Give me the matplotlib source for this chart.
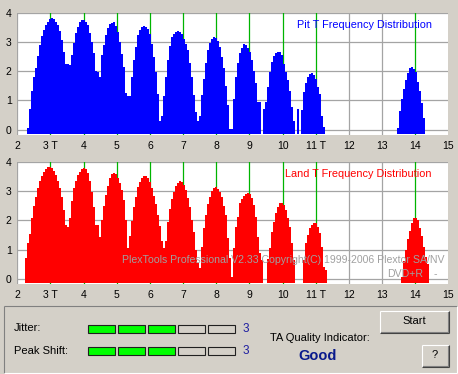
import matplotlib
matplotlib.use("Agg")
import matplotlib.pyplot as plt
from matplotlib.patches import Rectangle

plt.rcParams["font.family"] = ["Liberation Sans", "DejaVu Sans"]

BG = "#d4d0c8"
GRID = "#a4a4a4"
GREEN = "#00b400"

# T axis
T_TICKS = list(range(2, 16))
T_LABELS = ["2", "3 T", "4", "5", "6", "7", "8", "9", "10", "11 T", "12", "13", "14", "15"]
MARKED_T = [3, 4, 5, 6, 7, 8, 9, 10, 11, 14]

# histogram bins (log10 counts)
BIN_W = 0.0603
PIT_X0 = 2.305
LAND_X0 = 2.235

pit_first_bin = [0, 22, 37, 52, 68, 87, 103, 118, 135, 137, 185]
pit_heights = [
    [0.05, 0.72, 1.34, 1.82, 2.11, 2.54, 2.91, 3.22, 3.42, 3.60, 3.71, 3.79, 3.83, 3.79, 3.71, 3.60, 3.40, 3.08, 2.68, 2.26, 2.25, 2.22],
    [2.57, 2.97, 3.33, 3.54, 3.71, 3.77, 3.77, 3.71, 3.60, 3.33, 3.02, 2.62, 2.03, 1.99, 1.82],
    [2.55, 2.90, 3.25, 3.48, 3.62, 3.68, 3.70, 3.55, 3.35, 3.00, 2.60, 2.16, 1.25, 1.15, 1.15],
    [1.80, 2.40, 2.84, 3.24, 3.42, 3.52, 3.55, 3.52, 3.45, 3.30, 2.95, 2.50, 1.98, 1.23, 0.31, 0.48],
    [1.17, 1.80, 2.38, 2.86, 3.18, 3.30, 3.36, 3.39, 3.36, 3.30, 3.13, 2.95, 2.72, 2.30, 1.80, 1.20, 0.60, 0.31, 0.45],
    [1.20, 1.75, 2.30, 2.72, 2.98, 3.12, 3.18, 3.15, 3.05, 2.85, 2.50, 2.10, 1.50, 0.83, 0.03, 0.03],
    [1.05, 1.82, 2.30, 2.62, 2.82, 2.93, 2.92, 2.80, 2.65, 2.40, 2.00, 1.60, 0.95, 0.94],
    [0.70, 0.94, 1.46, 1.98, 2.32, 2.52, 2.63, 2.67, 2.67, 2.55, 2.26, 1.98, 1.69, 1.34, 0.77, 0.31],
    [0.71],
    [0.66, 1.29, 1.60, 1.80, 1.90, 1.94, 1.86, 1.75, 1.46, 1.23, 0.45, 0.08],
    [0.05, 0.65, 1.05, 1.40, 1.72, 1.95, 2.12, 2.14, 2.08, 1.98, 1.65, 1.32, 0.92, 0.40],
]

land_first_bin = [0, 22, 38, 52, 70, 88, 104, 121, 139, 188]
land_heights = [
    [0.72, 1.21, 1.53, 2.10, 2.50, 2.80, 3.13, 3.37, 3.53, 3.68, 3.76, 3.83, 3.83, 3.79, 3.71, 3.56, 3.37, 3.10, 2.80, 2.36, 1.84, 1.76],
    [2.10, 2.68, 3.10, 3.37, 3.56, 3.68, 3.76, 3.79, 3.76, 3.62, 3.37, 2.99, 2.45, 1.84, 1.84, 1.44],
    [2.00, 2.50, 2.87, 3.18, 3.45, 3.60, 3.64, 3.60, 3.45, 3.30, 3.05, 2.70, 2.00, 1.04],
    [1.47, 1.98, 2.47, 2.80, 3.16, 3.33, 3.45, 3.53, 3.52, 3.45, 3.33, 3.10, 2.85, 2.55, 2.20, 1.80, 1.30, 1.06],
    [1.30, 1.95, 2.40, 2.75, 2.98, 3.18, 3.30, 3.35, 3.33, 3.22, 3.05, 2.78, 2.45, 2.00, 1.60, 1.00, 0.55, 0.36],
    [1.10, 1.73, 2.19, 2.57, 2.82, 3.00, 3.10, 3.14, 3.08, 2.99, 2.80, 2.50, 2.19, 1.40, 0.70, 0.05],
    [1.04, 1.79, 2.13, 2.59, 2.73, 2.84, 2.90, 2.95, 2.90, 2.76, 2.53, 2.13, 1.44, 0.87, 0.64],
    [0.66, 1.04, 1.61, 1.96, 2.25, 2.47, 2.59, 2.61, 2.53, 2.36, 2.07, 1.79, 1.21, 0.64],
    [0.64, 1.21, 1.50, 1.73, 1.84, 1.92, 1.90, 1.79, 1.56, 1.10, 0.41, 0.30],
    [0.05, 0.60, 1.00, 1.35, 1.65, 1.90, 2.07, 2.10, 2.00, 1.75, 1.45, 1.10, 0.75, 0.50],
]

jitter_level = 3
peak_shift_level = 3
n_levels = 5
quality = "Good"
copyright_text = "PlexTools Professional V2.33 Copyright(C) 1999-2006 Plextor SA/NV"
media_text = "DVD+R"


def draw_hist(ax, x0, first_bins, heights, color):
    xs, hs = [], []
    for b, seg in zip(first_bins, heights):
        for i, h in enumerate(seg):
            if h > 0:
                xs.append(x0 + (b + i) * BIN_W)
                hs.append(h)
    base = 0.14
    ax.bar(xs, [h + base for h in hs], width=BIN_W * 1.03, bottom=-base,
           align="edge", color=color, linewidth=0, zorder=3)


def setup(ax, title, color):
    ax.set_facecolor("white")
    ax.set_xlim(2, 15)
    ax.set_ylim(-0.18, 4.0)
    for s in ax.spines.values():
        s.set_visible(False)
    ax.set_xticks(T_TICKS)
    ax.set_xticklabels(T_LABELS)
    ax.set_yticks([0, 1, 2, 3, 4])
    ax.tick_params(axis="x", length=0, labelsize=7.5, pad=4.5)
    ax.tick_params(axis="y", length=0, labelsize=7.5, pad=4)
    for y in range(5):
        ax.axhline(y, color=GRID, lw=0.9, zorder=1)
    for t in T_TICKS:
        ax.axvline(t, color=GREEN if t in MARKED_T else GRID, lw=0.9, zorder=2)
    ax.text(14.5, 3.6, title, ha="right", va="center", color=color, fontsize=7.8, zorder=5)


fig = plt.figure(figsize=(4.58, 3.74), dpi=100, facecolor=BG)

ax1 = fig.add_axes([17.2 / 458, (374 - 134.8) / 374, 431.3 / 458, 121.6 / 374])
setup(ax1, "Pit T Frequency Distribution", "#0000ff")
draw_hist(ax1, PIT_X0, pit_first_bin, pit_heights, "#0000ff")

ax2 = fig.add_axes([17.2 / 458, (374 - 283.9) / 374, 431.3 / 458, 121.7 / 374])
setup(ax2, "Land T Frequency Distribution", "#ff0000")
draw_hist(ax2, LAND_X0, land_first_bin, land_heights, "#ff0000")

# overlay in pixel coordinates for the dialog part
ov = fig.add_axes([0, 0, 1, 1])
ov.set_xlim(0, 458)
ov.set_ylim(374, 0)
ov.axis("off")

ov.text(445, 260, copyright_text, ha="right", va="center", color="#a0a0a0", fontsize=7.6)
ov.text(423, 274, media_text, ha="right", va="center", color="#a0a0a0", fontsize=7.6)
ov.text(435, 274, "-", ha="center", va="center", color="#a0a0a0", fontsize=7.6)


def frame(x0, y0, x1, y1, light, dark):
    ov.plot([x0, x1], [y0, y0], color=light, lw=0.8, solid_capstyle="butt")
    ov.plot([x0, x0], [y0, y1], color=light, lw=0.8, solid_capstyle="butt")
    ov.plot([x0, x1], [y1, y1], color=dark, lw=0.8, solid_capstyle="butt")
    ov.plot([x1, x1], [y0, y1], color=dark, lw=0.8, solid_capstyle="butt")


# sunken panel
frame(3.5, 305.5, 456.5, 372.5, "#808080", "#ffffff")

ov.text(14, 328, "Jitter:", ha="left", va="center", fontsize=8)
ov.text(14, 351, "Peak Shift:", ha="left", va="center", fontsize=8)

for row_y, level in [(324.5, jitter_level), (347, peak_shift_level)]:
    for i in range(n_levels):
        fc = "#00ff00" if i < level else BG
        ov.add_patch(Rectangle((87.5 + 30 * i, row_y), 27, 8, facecolor=fc,
                               edgecolor="#202020", lw=0.8))
    ov.text(245.5, row_y + 4, str(level), ha="center", va="center", color="#1c1ca0", fontsize=8.5)

ov.text(270, 338, "TA Quality Indicator:", ha="left", va="center", fontsize=8)
ov.text(318, 356, quality, ha="center", va="center", color="#0a1a8c", fontsize=10.5, fontweight="bold")

# buttons
frame(379.5, 310.5, 448.5, 332.5, "#ffffff", "#404040")
ov.plot([448.5 - 1, 448.5 - 1], [311.5, 331.5], color="#808080", lw=0.8)
ov.plot([380.5, 447.5], [331.5, 331.5], color="#808080", lw=0.8)
ov.text(414, 321.5, "Start", ha="center", va="center", fontsize=8)

frame(421.5, 344.5, 448.5, 366.5, "#ffffff", "#404040")
ov.plot([447.5, 447.5], [345.5, 365.5], color="#808080", lw=0.8)
ov.plot([422.5, 447.5], [365.5, 365.5], color="#808080", lw=0.8)
ov.text(435, 355.5, "?", ha="center", va="center", fontsize=8)

fig.savefig("out.png", dpi=100, facecolor=BG)
